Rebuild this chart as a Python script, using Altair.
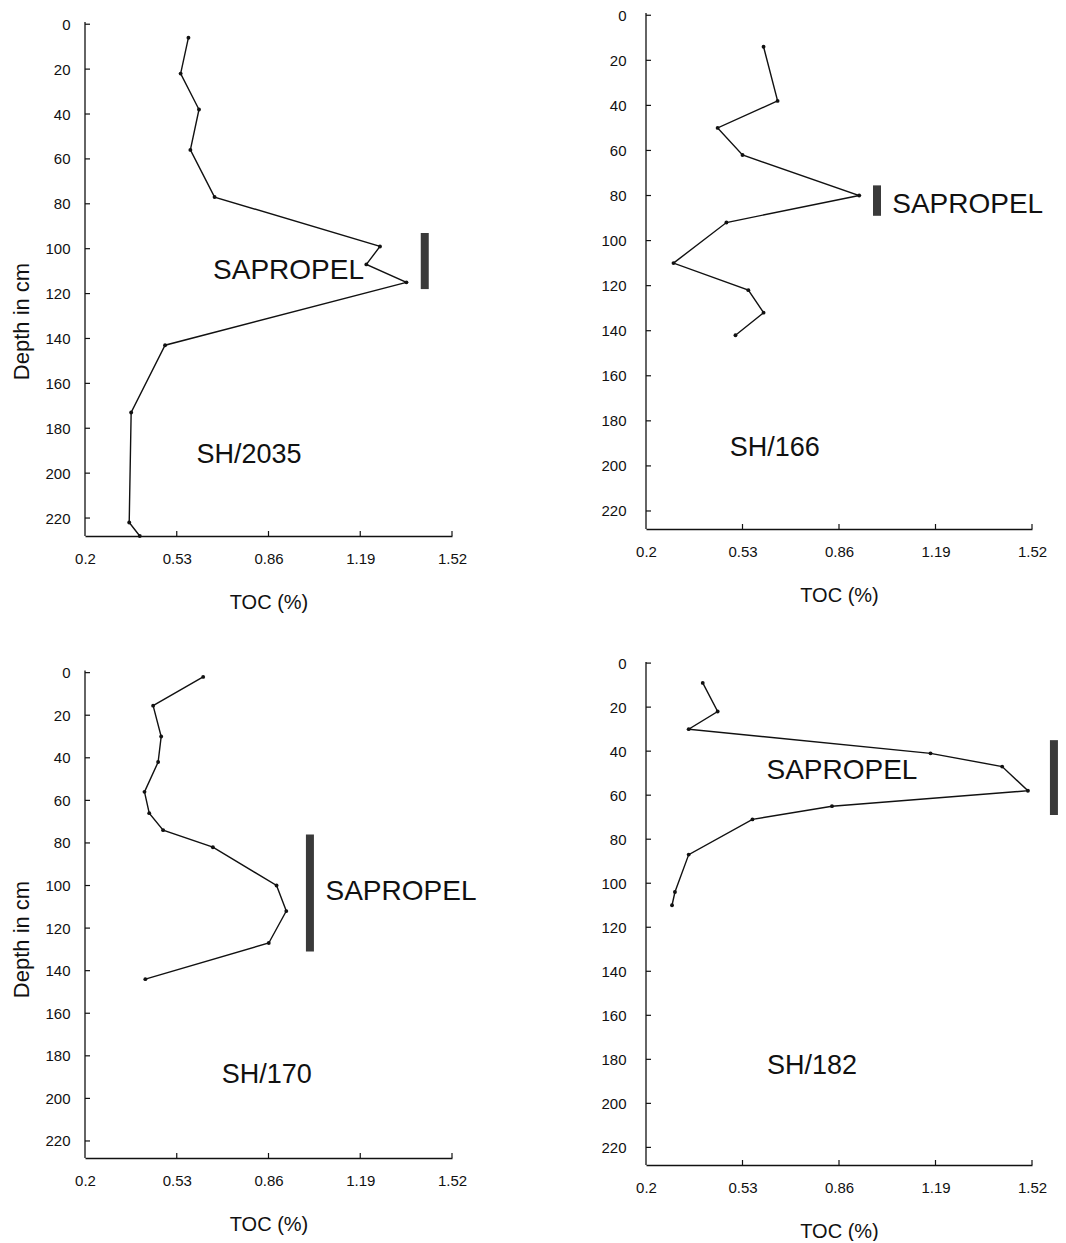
import altair as alt
import pandas as pd

FONT = "Liberation Sans"
INK = "#111111"

# Axis tick labels
x_ticks = [0.2, 0.53, 0.86, 1.19, 1.52]
y_ticks = [0, 20, 40, 60, 80, 100, 120, 140, 160, 180, 200, 220]

# SH/2035
p1_toc = [0.572, 0.544, 0.61, 0.579, 0.666, 1.261, 1.212, 1.356, 0.488, 0.366, 0.359, 0.397]
p1_depth = [6, 22, 38, 56, 77, 99, 107, 115, 143, 173, 222, 228]
p1_sapropel = [1.422, 93, 118]          # toc, depth top, depth bottom
p1_sap_label = [0.932, 110]
p1_core_label = [0.79, 192]

# SH/166
p2_toc = [0.602, 0.65, 0.445, 0.53, 0.929, 0.475, 0.294, 0.55, 0.602, 0.506]
p2_depth = [14, 38, 50, 62, 80, 92, 110, 122, 132, 142]
p2_sapropel = [0.99, 75.5, 89]
p2_sap_label = [1.042, 84]
p2_core_label = [0.64, 192]

# SH/170
p3_toc = [0.625, 0.445, 0.474, 0.463, 0.414, 0.431, 0.481, 0.66, 0.889, 0.924, 0.861, 0.417]
p3_depth = [2, 15.5, 30, 42, 56, 66, 74, 82, 100, 112, 127, 144]
p3_sapropel = [1.009, 76, 131]
p3_sap_label = [1.065, 103]
p3_core_label = [0.854, 189]

# SH/182
p4_toc = [0.394, 0.445, 0.346, 1.173, 1.418, 1.506, 0.836, 0.564, 0.346, 0.299, 0.289]
p4_depth = [9, 22, 30, 41, 47, 58, 65, 71, 87, 104, 110]
p4_sapropel = [1.595, 35, 69]
p4_sap_label = [0.87, 49]
p4_core_label = [0.768, 183]


def panel(name, toc, depth, sap, sap_label, sap_align, core_label, ydom, w, h,
          ytitle, lpad, title_y=None):
    x_enc = alt.X(
        "toc:Q",
        scale=alt.Scale(domain=[0.2, 1.52], nice=False, zero=False),
        axis=alt.Axis(values=x_ticks, labelExpr="format(datum.value, '.2~f')",
                      ticks=False, grid=False,
                      labelPadding=15, labelFlush=False, labelOverlap=False,
                      title="TOC (%)", titlePadding=26,
                      labelFont=FONT, titleFont=FONT, labelFontSize=15,
                      titleFontSize=20, titleFontWeight="normal",
                      labelColor=INK, titleColor=INK,
                      domainColor=INK, domainWidth=1.3),
    )
    yaxis_kw = dict(values=y_ticks, format="d", ticks=False, grid=False,
                    domain=False, labelPadding=lpad, labelFlush=False,
                    labelOverlap=False, labelFont=FONT, labelFontSize=15,
                    labelColor=INK)
    if ytitle:
        yaxis_kw.update(title="Depth in cm", titleFont=FONT, titleFontSize=22,
                        titleFontWeight="normal", titleColor=INK,
                        titlePadding=11, titleY=title_y)
    y_enc = alt.Y(
        "depth:Q",
        scale=alt.Scale(domain=list(ydom), reverse=True, nice=False, zero=False),
        axis=alt.Axis(**yaxis_kw),
        title="Depth in cm" if ytitle else None,
    )

    df = pd.DataFrame({"toc": toc, "depth": depth, "i": list(range(len(toc)))})
    line = alt.Chart(df).mark_line(color=INK, strokeWidth=1.4).encode(
        x=x_enc, y=y_enc, order="i:Q")
    pts = alt.Chart(df).mark_circle(size=15, color=INK, opacity=1).encode(
        x=x_enc, y=y_enc)

    # y axis line (from just above 0 to the bottom)
    yline = alt.Chart(pd.DataFrame({"depth": [ydom[0] + 4 if ydom[0] < -2 else ydom[0]],
                                    "depth2": [ydom[1]]})).mark_rule(
        color=INK, strokeWidth=1.3).encode(x=alt.value(0), y=y_enc, y2="depth2:Q")
    # inward ticks
    ytk = alt.Chart(pd.DataFrame({"depth": y_ticks})).mark_rule(
        color=INK, strokeWidth=1.2).encode(y=y_enc, x=alt.value(0), x2=alt.value(5))
    xtk = alt.Chart(pd.DataFrame({"toc": x_ticks[1:]})).mark_rule(
        color=INK, strokeWidth=1.2).encode(x=x_enc, y=alt.value(h), y2=alt.value(h - 5))

    bar = alt.Chart(pd.DataFrame({"toc": [sap[0]], "depth": [sap[1]],
                                  "depth2": [sap[2]]})).mark_rule(
        color="#3a3a3a", strokeWidth=8, strokeCap="butt").encode(
        x=x_enc, y=y_enc, y2="depth2:Q")

    sap_txt = alt.Chart(pd.DataFrame({"toc": [sap_label[0]], "depth": [sap_label[1]],
                                      "t": ["SAPROPEL"]})).mark_text(
        font=FONT, fontSize=28, align=sap_align, baseline="middle", color=INK).encode(
        x=x_enc, y=y_enc, text="t:N")
    core_txt = alt.Chart(pd.DataFrame({"toc": [core_label[0]], "depth": [core_label[1]],
                                       "t": [name]})).mark_text(
        font=FONT, fontSize=27, align="center", baseline="middle", color=INK).encode(
        x=x_enc, y=y_enc, text="t:N")

    return alt.layer(yline, ytk, xtk, line, pts, bar, sap_txt, core_txt).properties(
        width=w, height=h)


c1 = panel("SH/2035", p1_toc, p1_depth, p1_sapropel, p1_sap_label, "center",
           p1_core_label, (-5, 228), 367, 523, True, 15, 308)
c2 = panel("SH/166", p2_toc, p2_depth, p2_sapropel, p2_sap_label, "left",
           p2_core_label, (-1, 228), 386, 516, False, 20)
c3 = panel("SH/170", p3_toc, p3_depth, p3_sapropel, p3_sap_label, "left",
           p3_core_label, (-5, 228), 367, 496, True, 15, 277)
c4 = panel("SH/182", p4_toc, p4_depth, p4_sapropel, p4_sap_label, "center",
           p4_core_label, (-0.5, 228), 386, 503, False, 20)

chart = alt.concat(c1, c2, c3, c4, columns=2,
                   spacing={"row": 126, "column": 175},
                   bounds="flush", align="all").properties(
    padding={"left": 2, "top": 0, "right": 0, "bottom": 0},
    background="white",
).configure_view(stroke=None)

chart.save("out.html", embed_options={"renderer": "svg", "actions": False})
